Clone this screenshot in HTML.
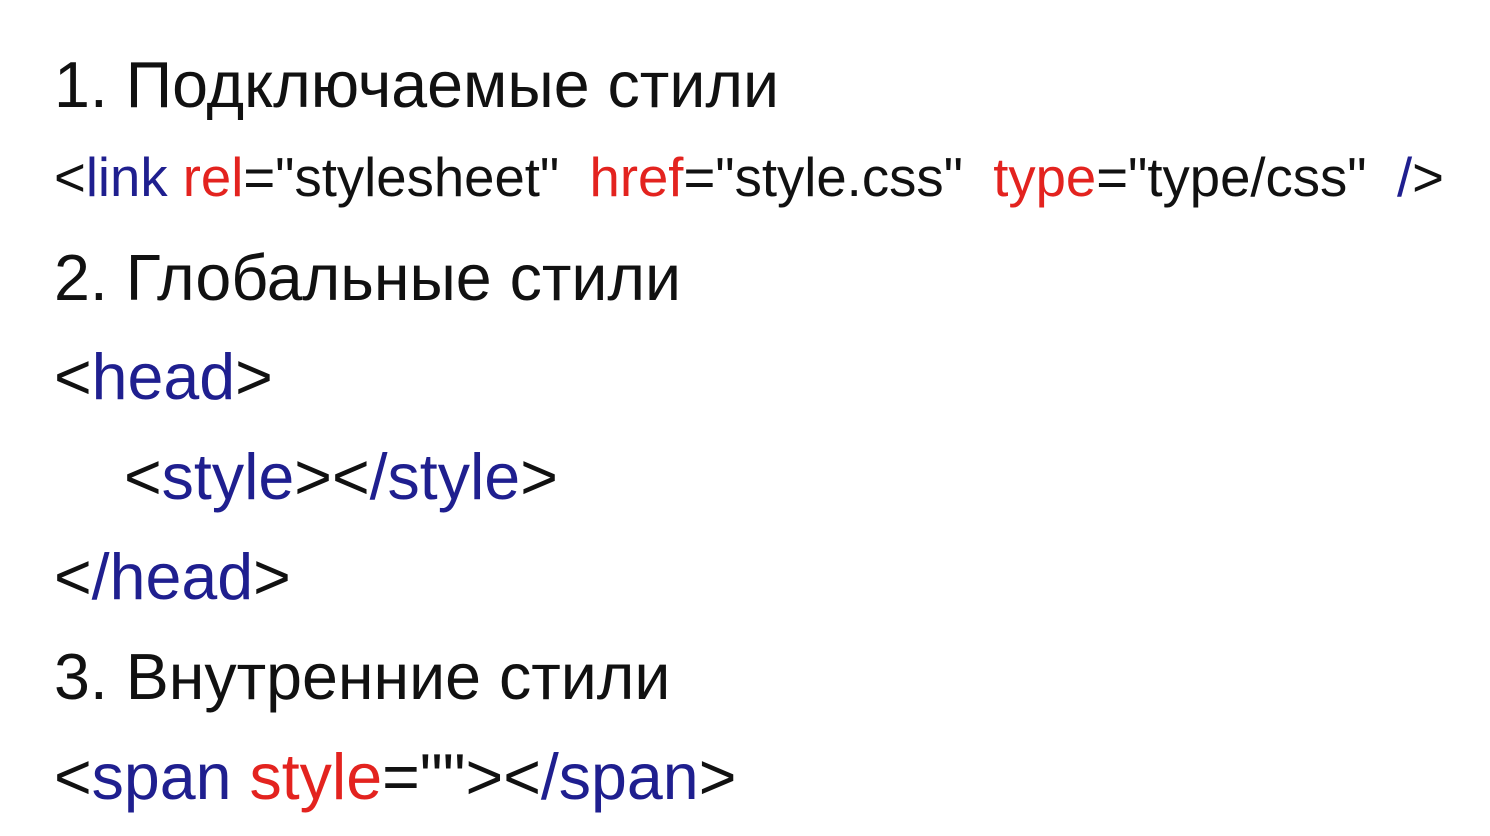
<!DOCTYPE html>
<html><head><meta charset="utf-8"><style>
body{margin:0;width:1490px;height:836px;background:#fff;overflow:hidden;position:relative;font-family:"Liberation Sans",Arial,sans-serif;color:#111}
.l{position:absolute;left:54px;line-height:1;white-space:pre;font-size:64.5px}
.s{font-size:54.5px}
.b{color:#1f1f8f}.r{color:#e3231f}
</style></head><body>
<div class="l" style="top:53px">1. Подключаемые стили</div>
<div class="l s" style="top:151px">&lt;<span class="b">link</span> <span class="r">rel</span>="stylesheet"  <span class="r">href</span>="style.css"  <span class="r">type</span>="type/css"  <span class="b">/</span>&gt;</div>
<div class="l" style="top:246px">2. Глобальные стили</div>
<div class="l" style="top:345px">&lt;<span class="b">head</span>&gt;</div>
<div class="l" style="top:445px;left:124px">&lt;<span class="b">style</span>&gt;&lt;<span class="b">/style</span>&gt;</div>
<div class="l" style="top:545px">&lt;<span class="b">/head</span>&gt;</div>
<div class="l" style="top:645px">3. Внутренние стили</div>
<div class="l" style="top:745px">&lt;<span class="b">span</span> <span class="r">style</span>=""&gt;&lt;<span class="b">/span</span>&gt;</div>
</body></html>
